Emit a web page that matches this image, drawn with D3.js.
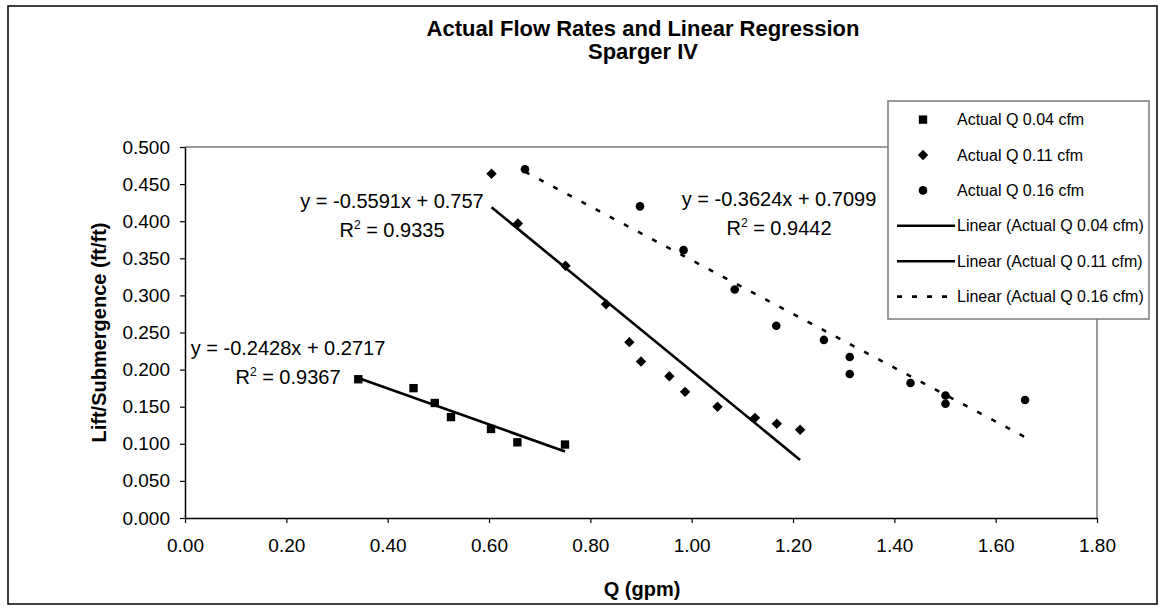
<!DOCTYPE html>
<html>
<head>
<meta charset="utf-8">
<script src="https://cdn.jsdelivr.net/npm/d3@7"></script>
<style>
  html, body { margin: 0; padding: 0; background: #fff; }
  svg { display: block; font-family: "Liberation Sans", Arial, sans-serif; }
</style>
</head>
<body>
<svg id="chart" width="1163" height="608"></svg>
<script>
// ---------- data ----------
const seriesNames = ["Actual Q 0.04 cfm", "Actual Q 0.11 cfm", "Actual Q 0.16 cfm"];
const q004 = [0.342, 0.451, 0.493, 0.525, 0.604, 0.656, 0.750];
const ls004 = [0.187, 0.175, 0.155, 0.136, 0.120, 0.102, 0.099];
const q011 = [0.605, 0.657, 0.751, 0.831, 0.877, 0.900, 0.956, 0.987, 1.051, 1.125, 1.168, 1.214];
const ls011 = [0.464, 0.397, 0.340, 0.288, 0.237, 0.211, 0.191, 0.170, 0.150, 0.135, 0.127, 0.119];
const q016 = [0.671, 0.898, 0.984, 1.085, 1.167, 1.261, 1.312, 1.312, 1.432, 1.501, 1.501, 1.658];
const ls016 = [0.470, 0.420, 0.361, 0.308, 0.259, 0.240, 0.217, 0.194, 0.182, 0.165, 0.154, 0.159];
const slopes = [-0.2428, -0.5591, -0.3624];
const intercepts = [0.2717, 0.757, 0.7099];
const rSquared = ["0.9367", "0.9335", "0.9442"];
const xTicks = [0, 0.2, 0.4, 0.6, 0.8, 1.0, 1.2, 1.4, 1.6, 1.8];
const yTicks = [0, 0.05, 0.1, 0.15, 0.2, 0.25, 0.3, 0.35, 0.4, 0.45, 0.5];
const titleLines = ["Actual Flow Rates and Linear Regression", "Sparger IV"];
const xTitle = "Q (gpm)";
const yTitle = "Lift/Submergence (ft/ft)";

// ---------- layout ----------
const svg = d3.select("#chart");
const L = 185, R = 1097, T = 147, B = 518;
const x = d3.scaleLinear().domain([0, 1.8]).range([L, R]);
const y = d3.scaleLinear().domain([0, 0.5]).range([B, T]);

// chart border
svg.append("rect").attr("x", 8).attr("y", 6).attr("width", 1149).attr("height", 598)
  .attr("fill", "#fff").attr("stroke", "#000").attr("stroke-width", 1.5);

// title
svg.append("text").attr("x", 643).attr("y", 36).attr("text-anchor", "middle")
  .attr("font-size", 22).attr("font-weight", "bold").text(titleLines[0]);
svg.append("text").attr("x", 643).attr("y", 59).attr("text-anchor", "middle")
  .attr("font-size", 22).attr("font-weight", "bold").text(titleLines[1]);

// plot area border (top & right, grey)
svg.append("path").attr("d", `M${L},${T}H${R}V${B}`).attr("fill", "none")
  .attr("stroke", "#9a9a9a").attr("stroke-width", 2);

// axes
const yAxis = svg.append("g").attr("transform", `translate(${L},0)`)
  .call(d3.axisLeft(y).tickValues(yTicks).tickFormat(d3.format(".3f")).tickSize(5).tickSizeOuter(0).tickPadding(10));
const xAxis = svg.append("g").attr("transform", `translate(0,${B})`)
  .call(d3.axisBottom(x).tickValues(xTicks).tickFormat(d3.format(".2f")).tickSize(5).tickSizeOuter(0).tickPadding(16));
[yAxis, xAxis].forEach(g => {
  g.select(".domain").attr("stroke", "#000").attr("stroke-width", 1.5);
  g.selectAll(".tick line").attr("stroke", "#000").attr("stroke-width", 1.2);
  g.selectAll(".tick text").attr("font-size", 19).attr("fill", "#000")
    .attr("font-family", "Liberation Sans, Arial, sans-serif");
});

// axis titles
svg.append("text").attr("x", 642).attr("y", 596).attr("text-anchor", "middle")
  .attr("font-size", 20).attr("font-weight", "bold").text(xTitle);
svg.append("text").attr("transform", `translate(106,${(T + B) / 2}) rotate(-90)`)
  .attr("text-anchor", "middle").attr("font-size", 20).attr("font-weight", "bold").text(yTitle);

// trendlines
const xs = [q004, q011, q016];
const ys = [ls004, ls011, ls016];
const dashes = [null, null, "5,11"];
xs.forEach((arr, i) => {
  const x0 = d3.min(arr), x1 = d3.max(arr);
  svg.append("line")
    .attr("x1", x(x0)).attr("y1", y(slopes[i] * x0 + intercepts[i]))
    .attr("x2", x(x1)).attr("y2", y(slopes[i] * x1 + intercepts[i]))
    .attr("stroke", "#000").attr("stroke-width", 2.6)
    .attr("stroke-dasharray", dashes[i]);
});

// markers
const sq = d3.symbol().type(d3.symbolSquare).size(70);
const dm = () => "M0,-5.2L5.2,0L0,5.2L-5.2,0Z";
const ci = d3.symbol().type(d3.symbolCircle).size(58);
const symbols = [sq, dm, ci];
xs.forEach((arr, i) => {
  svg.append("g").selectAll("path").data(arr.map((v, j) => [v, ys[i][j]])).join("path")
    .attr("d", symbols[i]).attr("fill", "#000")
    .attr("transform", d => `translate(${x(d[0])},${y(d[1])})`);
});

// equation labels
const eqPos = [[288, 355], [392, 208], [779, 206]];
const fmt = (v) => v.toString();
eqPos.forEach((p, i) => {
  const s = slopes[i] < 0 ? "-" + fmt(Math.abs(slopes[i])) : fmt(slopes[i]);
  svg.append("text").attr("x", p[0]).attr("y", p[1]).attr("text-anchor", "middle")
    .attr("font-size", 20).text(`y = ${s}x + ${fmt(intercepts[i])}`);
  const t = svg.append("text").attr("x", p[0]).attr("y", p[1] + 29).attr("text-anchor", "middle")
    .attr("font-size", 20);
  t.append("tspan").text("R");
  t.append("tspan").attr("font-size", 12).attr("dy", -8).text("2");
  t.append("tspan").attr("dy", 8).text(" = " + rSquared[i]);
});

// legend
const lg = svg.append("g");
lg.append("rect").attr("x", 888).attr("y", 101).attr("width", 261).attr("height", 218)
  .attr("fill", "#fff").attr("stroke", "#7a7a7a").attr("stroke-width", 1.5);
const rowY = d3.range(6).map(k => 119.6 + k * 35.4);
seriesNames.forEach((n, i) => {
  lg.append("path").attr("d", symbols[i]).attr("fill", "#000")
    .attr("transform", `translate(923,${rowY[i]})`);
  lg.append("text").attr("x", 957).attr("y", rowY[i] + 5.5).attr("font-size", 16).text(n);
});
seriesNames.forEach((n, i) => {
  const ry = rowY[i + 3];
  lg.append("line").attr("x1", 897).attr("x2", 955).attr("y1", ry).attr("y2", ry)
    .attr("stroke", "#000").attr("stroke-width", 2.6).attr("stroke-dasharray", dashes[i] ? "5,10" : null);
  lg.append("text").attr("x", 957).attr("y", ry + 5.5).attr("font-size", 16).text(`Linear (${n})`);
});
</script>
</body>
</html>
